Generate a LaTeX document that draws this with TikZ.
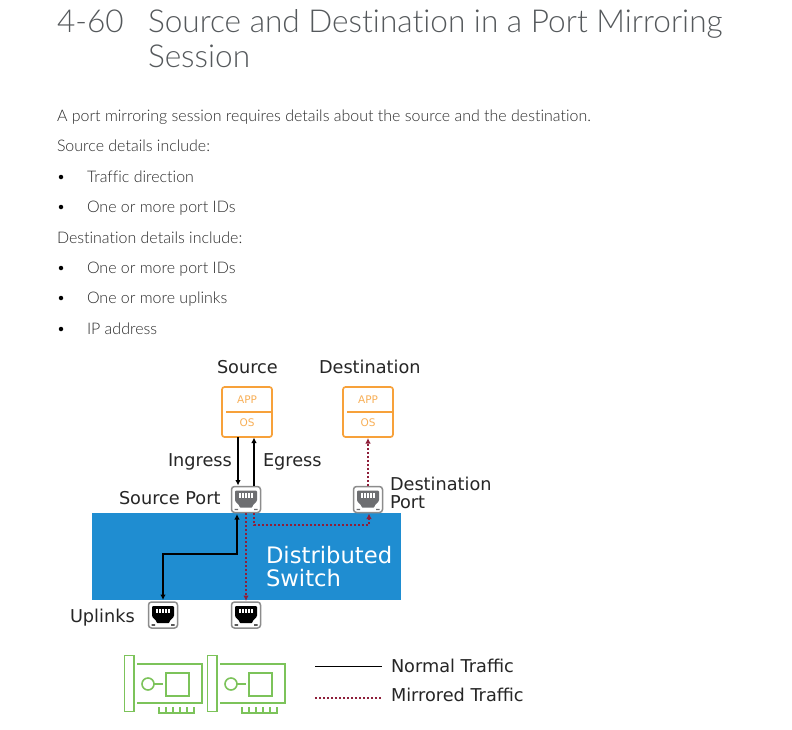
\documentclass[tikz,border=0pt]{standalone}
\usepackage{fontspec}
\setmainfont{Lato Light}[BoldFont={Lato},Ligatures=NoCommon]
\newfontfamily\lab{DejaVu Sans}
\usetikzlibrary{arrows.meta}
\definecolor{vmorange}{HTML}{F7A13A}
\definecolor{swblue}{HTML}{1F8DD1}
\definecolor{mirr}{HTML}{8E1F3A}
\definecolor{nicgreen}{HTML}{7CC35A}
\definecolor{portgray}{HTML}{6D6E71}
\definecolor{titlegray}{HTML}{55595C}
\definecolor{bodyc}{HTML}{2A2A2A}
\tikzset{
  txt/.style={anchor=base west,inner sep=0pt,outer sep=0pt},
  titletxt/.style={txt,font=\fontsize{31.6}{31.6}\selectfont,text=titlegray},
  body/.style={txt,font=\fontsize{15.97}{15.97}\selectfont,text=bodyc},
  lbl/.style={txt,font=\lab\fontsize{17.7}{17.7}\selectfont,text=black!85},
  vmbox/.style={draw=vmorange,line width=1.7pt,rounded corners=2.5pt,minimum width=50pt,minimum height=50pt,inner sep=0pt,fill=white},
  vmtxt/.style={font=\lab\fontsize{10.5}{10.5}\selectfont,text=vmorange!85,inner sep=0pt},
  portbox/.style={draw=black!45,line width=1.5pt,rounded corners=3pt,fill=white,minimum width=29pt,minimum height=26pt,inner sep=0pt},
  normal/.style={draw=black,line width=1.1pt,-{Latex[length=5.5pt,width=5.5pt]}},
  normalb/.style={normal,{Latex[length=5.5pt,width=5.5pt]}-{Latex[length=5.5pt,width=5.5pt]}},
  mirror/.style={draw=mirr,line width=1.2pt,dash pattern=on 2pt off 2pt,-{Latex[length=5.5pt,width=5.5pt]}},
  nic/.style={draw=nicgreen,line width=1.6pt},
  bullet/.style={circle,fill=black,inner sep=0pt,minimum size=4.5pt}
}
\newcommand{\portglyph}[2]{%
  \begin{scope}[shift={(#1)}]
    \fill[#2,rounded corners=1pt] (-11,-9) -- (11,-9) -- (11,1.5) -- (6.5,6) -- (6.5,8) -- (-6.5,8) -- (-6.5,6) -- (-11,1.5) -- cycle;
    \foreach \xx in {-6.2,-3.1,0,3.1,6.2} \fill[white] (\xx-1,-6.5) rectangle (\xx+1,-2);
    \fill[#2] (-11.5,9.3) rectangle (-8,10.5) (8,9.3) rectangle (11.5,10.5);
  \end{scope}}
\newcommand{\nicicon}[1]{%
  \begin{scope}[shift={(#1,0)}]
    \draw[nic] (124.5,655.5) rectangle (134,711.5);
    \draw[nic] (137,664) -- (202,664) -- (202,703) -- (137,703);
    \draw[nic] (148,684) circle (6);
    \draw[nic] (154,684) -- (163,684);
    \draw[nic] (166,673) rectangle (189,696);
    \draw[nic,line width=1.3pt] (159,707) -- (159,713) -- (194,713) -- (194,707) (166,707) -- (166,713) (173,707) -- (173,713) (180,707) -- (180,713) (187,707) -- (187,713);
  \end{scope}}
\begin{document}
\begin{tikzpicture}[x=1pt,y=-1pt]
\useasboundingbox (0,0) rectangle (792,729);
\fill[white] (0,0) rectangle (792,729);
\node[titletxt] (num) at (57,32) {4-60};
\node[titletxt] (t1) at (148,32) {Source and Destination in a Port Mirroring};
\node[titletxt] (t2) at (148,67) {Session};
\node[body] (b1) at (57,121) {A port mirroring session requires details about the source and the destination.};
\node[body] (b2) at (57,151) {Source details include:};
\node[bullet] (d1) at (61,177) {};
\node[body] (b3) at (87,182) {Traffic direction};
\node[bullet] (d2) at (61,207) {};
\node[body] (b4) at (87,212) {One or more port IDs};
\node[body] (b5) at (57,243) {Destination details include:};
\node[bullet] (d3) at (61,268) {};
\node[body] (b6) at (87,273) {One or more port IDs};
\node[bullet] (d4) at (61,298) {};
\node[body] (b7) at (87,303) {One or more uplinks};
\node[bullet] (d5) at (61,329) {};
\node[body] (b8) at (87,334) {IP address};
\node[lbl] (ls) at (217,373.5) {Source};
\node[lbl] (ld) at (319,373.5) {Destination};
\node[vmbox] (src) at (247,412) {};
\node[vmbox] (dst) at (368,412) {};
\draw[vmorange,line width=1.5pt] (226,412) -- (272,412);
\draw[vmorange,line width=1.5pt] (347,412) -- (393,412);
\node[vmtxt] (a1) at (247,400) {APP};
\node[vmtxt] (o1) at (247,423) {OS};
\node[vmtxt] (a2) at (368,400) {APP};
\node[vmtxt] (o2) at (368,423) {OS};
\node[fill=swblue,minimum width=309pt,minimum height=87pt,inner sep=0pt] (sw) at (246.5,556.5) {};
\node[txt,font=\lab\fontsize{22.7}{22.7}\selectfont,text=white] (s1) at (266,563) {Distributed};
\node[txt,font=\lab\fontsize{22.7}{22.7}\selectfont,text=white] (s2) at (266,586) {Switch};
\node[portbox] (ps) at (246,499.5) {};
\node[portbox] (pd) at (368,499.5) {};
\node[portbox] (u1) at (163,615) {};
\node[portbox] (u2) at (246,615) {};
\portglyph{246,499.5}{portgray}
\portglyph{368,499.5}{portgray}
\portglyph{163,615}{black}
\portglyph{246,615}{black}
\node[lbl] (li) at (168,466.5) {Ingress};
\node[lbl] (le) at (263,466.5) {Egress};
\node[lbl] (lp) at (119,504.5) {Source Port};
\node[lbl] (ldp1) at (390,490.5) {Destination};
\node[lbl] (ldp2) at (390,508.5) {Port};
\node[lbl] (lu) at (70,622.5) {Uplinks};
\draw[normal] (238,437) -- (238,485.5);
\draw[normal] (254,486) -- (254,437.5);
\draw[mirror] (368,486) -- (368,438);
\draw[normalb] (163,600) -- (163,554) -- (237,554) -- (237,514);
\draw[mirror] (246,513) -- (246,601);
\draw[mirror] (254,513) -- (254,525) -- (369,525) -- (369,513.5);
\nicicon{0}
\nicicon{83}
\coordinate (n1a) at (315,666); \coordinate (n1b) at (382,666);
\coordinate (n2a) at (315,698); \coordinate (n2b) at (382,698);
\draw[black,line width=0.9pt] (n1a) -- (n1b);
\draw[mirr,line width=1.1pt,dash pattern=on 2pt off 2pt] (n2a) -- (n2b);
\node[lbl] (ln) at (391,672.5) {Normal Traffic};
\node[lbl] (lm) at (391,701.5) {Mirrored Traffic};
\end{tikzpicture}
\end{document}
